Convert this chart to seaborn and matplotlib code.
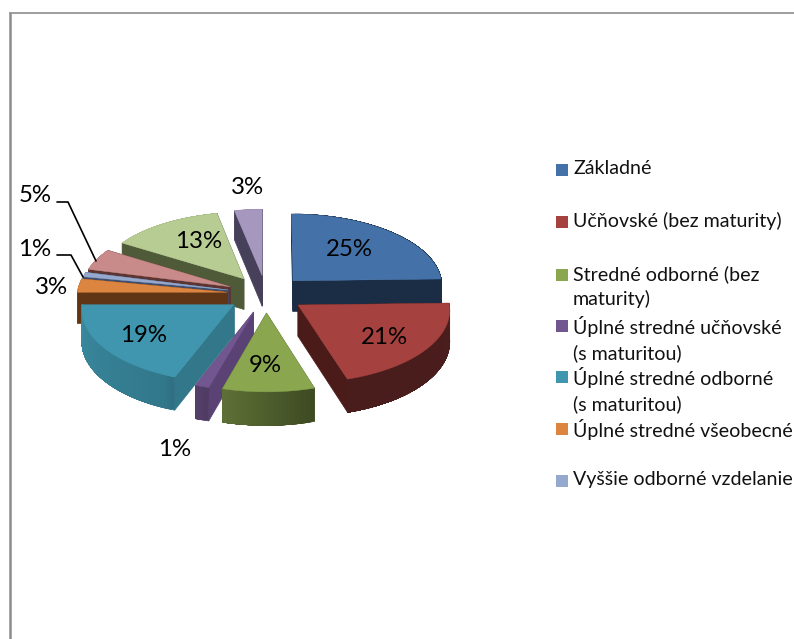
import numpy as np
import matplotlib
matplotlib.use("Agg")
import matplotlib.pyplot as plt
from matplotlib.patches import Polygon, Rectangle
import seaborn as sns

# --- data (percent shares, clockwise from 12 o'clock) ---
shares = [24.6, 20.6, 9.2, 1.4, 19.2, 3.0, 1.0, 4.8, 13.0, 3.2]
legend_labels = ["Základné", "Učňovské (bez maturity)", "Stredné odborné (bez\nmaturity)",
                 "Úplné stredné učňovské\n(s maturitou)", "Úplné stredné odborné\n(s maturitou)",
                 "Úplné stredné všeobecné", "Vyššie odborné vzdelanie"]
top_hex = ["#4472a8", "#a5423f", "#8aa64f", "#72568f", "#3f96ae", "#dc8540",
           "#95a9cf", "#c98b89", "#b7cc93", "#a597bd"]
cut_hex = ["#1b2c45", "#4a1b18", "#4f6130", "#5a4275", "#33778a", "#5f3515",
           "#3f4f70", "#5c3533", "#4f5a38", "#46405a"]

# --- layout / style ---
CX, CY, RX, RY, PERSP, EXPLODE, DEPTH = 266, 294, 150, 72, 0.058, 0.26, 31
label_xy = [(349, 250), (384, 337), (265, 366), (175, 449), (144, 335),
            (51, 288), (35, 250), (35, 195), (199, 241), (247, 188)]
legend_y = [169, 221, 274, 325, 376, 428, 480]
FONT = "Lato"

sns.set_theme(style="white")
plt.rcParams["font.family"] = [FONT, "DejaVu Sans"]
palette = sns.color_palette(top_hex)
cuts = sns.color_palette(cut_hex)


def project(u, v, z=0.0):
    w = 1 + PERSP * np.asarray(v)
    return CX + RX * np.asarray(u) / w, CY - (RY * np.asarray(v) - DEPTH * z) / w


def arc_shade(theta):
    return np.interp(theta, [90, 162, 195, 205, 270, 360], [.45, .44, .68, .8, .92, .92])


def strip(ax, us, vs, color, zo):
    """Extruded wall under the polyline (us, vs)."""
    xt, yt = project(us, vs, 0.0)
    xb, yb = project(us, vs, 1.0)
    pts = np.r_[np.c_[xt, yt], np.c_[xb, yb][::-1]]
    ax.add_patch(Polygon(pts, closed=True, fc=color, ec=color, lw=0.5, zorder=zo))


fig = plt.figure(figsize=(7.94, 6.39), dpi=100, facecolor="white")
ax = fig.add_axes([0, 0, 1, 1])
ax.set_xlim(0, 794)
ax.set_ylim(639, 0)
ax.axis("off")

edges = np.r_[0, np.cumsum(shares)] / sum(shares) * 360
mids = (edges[:-1] + edges[1:]) / 2
order = np.argsort(-np.cos(np.radians(mids)))

zo = 2
for i in order:
    a0, a1 = edges[i], edges[i + 1]
    m = np.radians(mids[i])
    ox, oy = EXPLODE * np.sin(m), EXPLODE * np.cos(m)
    th = np.linspace(a0, a1, max(3, int((a1 - a0) / 1.5) + 2))
    us = ox + np.sin(np.radians(th))
    vs = oy + np.cos(np.radians(th))

    def draw_arc(z):
        # each step overlaps the rest of the wall, so no seams show
        for k in range(len(th) - 1):
            col = tuple(c * arc_shade(th[k]) for c in palette[i])
            strip(ax, us[k:], vs[k:], col, z)

    walls = [((oy + vs[0]) / 2, lambda z, a=us[0], b=vs[0]: strip(ax, np.r_[ox, a], np.r_[oy, b], cuts[i], z)),
             ((oy + vs[-1]) / 2, lambda z, a=us[-1], b=vs[-1]: strip(ax, np.r_[ox, a], np.r_[oy, b], cuts[i], z)),
             (vs.mean(), draw_arc)]
    walls.sort(key=lambda t: -t[0])
    for _, draw in walls:
        draw(zo)
    x, y = project(np.r_[ox, us], np.r_[oy, vs])
    ax.add_patch(Polygon(np.c_[x, y], closed=True, fc=palette[i], ec=palette[i], lw=0.3, zorder=zo + 0.5))
    zo += 1

for v, (x, y) in zip(shares, label_xy):
    ax.text(x, y, f"{v:.0f}%", ha="center", va="center", fontsize=17.3, color="black", zorder=50)

ax.plot([57, 68, 96], [202, 202, 261], color="black", lw=1.2, zorder=40)
ax.plot([57, 71, 83], [255, 255, 277], color="black", lw=1.2, zorder=40)

for lab, y, col in zip(legend_labels, legend_y, palette):
    ax.add_patch(Rectangle((556, y - 5.5), 12, 12, fc=col, ec="none", zorder=3))
    ax.text(573, y - 9, lab, ha="left", va="top", fontsize=14.1, linespacing=1.5, color="#111111")

ax.plot([10, 10], [639, 12.5], color="#8c8c8c", lw=1.8, solid_capstyle="butt")
ax.plot([9, 794], [12.5, 12.5], color="#8c8c8c", lw=1.2, solid_capstyle="butt")

fig.savefig("out.png", dpi=100)
